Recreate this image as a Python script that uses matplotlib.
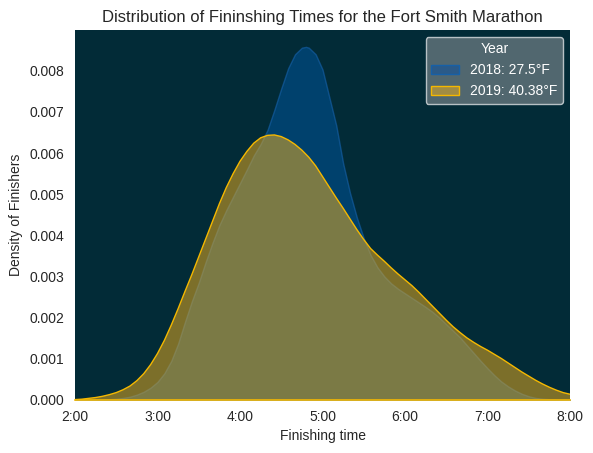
import matplotlib
matplotlib.use("Agg")
import matplotlib.pyplot as plt
from matplotlib.ticker import FuncFormatter, MultipleLocator
from matplotlib.patches import Patch

# Finishing time in minutes and density
minutes_2018 = [120, 130, 140, 145, 150, 155, 160, 165, 170, 175, 180, 185, 190, 195,
                200, 205, 210, 215, 220, 225, 230, 235, 240, 245, 250, 255, 260, 265,
                270, 275, 280, 285, 288, 290, 295, 300, 305, 310, 315, 320, 325, 330,
                335, 340, 345, 350, 355, 360, 365, 370, 375, 380, 385, 390, 395, 400,
                405, 410, 415, 420, 425, 430, 435, 440, 445, 450, 455, 460, 470, 480]
density_2018 = [0.0, 0.000005, 0.00001, 0.00002, 0.00003, 0.00005, 0.00008, 0.00013,
                0.0002, 0.0003, 0.00044, 0.00065, 0.00095, 0.00137, 0.0019, 0.0024,
                0.00285, 0.00335, 0.00382, 0.00425, 0.00461, 0.00494, 0.00527, 0.0056,
                0.00594, 0.00622, 0.00656, 0.00705, 0.00757, 0.00806, 0.0084, 0.00856,
                0.00858, 0.00856, 0.0084, 0.00803, 0.00735, 0.00667, 0.00575, 0.00503,
                0.00443, 0.00393, 0.00352, 0.00322, 0.003, 0.00283, 0.0027, 0.00259,
                0.00248, 0.00237, 0.00226, 0.00214, 0.002, 0.00184, 0.00168, 0.00152,
                0.00133, 0.00114, 0.00095, 0.00077, 0.0006, 0.00045, 0.00033, 0.00023,
                0.00015, 0.00009, 0.00005, 0.00003, 0.00001, 0.0]

minutes_2019 = [120, 125, 130, 135, 140, 145, 150, 155, 160, 165, 170, 175, 180, 185,
                190, 195, 200, 205, 210, 215, 220, 225, 230, 235, 240, 245, 250, 255,
                260, 265, 270, 275, 280, 285, 290, 295, 300, 305, 310, 315, 320, 325,
                330, 335, 340, 345, 350, 355, 360, 365, 370, 375, 380, 385, 390, 395,
                400, 405, 410, 415, 420, 425, 430, 435, 440, 445, 450, 455, 460, 465,
                470, 475, 480]
density_2019 = [0.00001, 0.00002, 0.00004, 0.00006, 0.00009, 0.00013, 0.00018, 0.00025,
                0.00034, 0.00047, 0.00064, 0.00086, 0.00113, 0.00145, 0.00182, 0.00222,
                0.00264, 0.00305, 0.00348, 0.00391, 0.00434, 0.00477, 0.00516, 0.0055,
                0.0058, 0.00604, 0.00624, 0.00637, 0.00643, 0.00644, 0.0064, 0.00632,
                0.00621, 0.00607, 0.0059, 0.00569, 0.00543, 0.00517, 0.00491, 0.00466,
                0.0044, 0.00414, 0.0039, 0.00368, 0.00352, 0.00337, 0.00321, 0.00306,
                0.00292, 0.00278, 0.00262, 0.00245, 0.00228, 0.00211, 0.00194, 0.00178,
                0.00164, 0.00151, 0.0014, 0.0013, 0.00121, 0.00111, 0.00101, 0.0009,
                0.00079, 0.00068, 0.00058, 0.00048, 0.00039, 0.00031, 0.00024, 0.00018,
                0.00014]

labels = ["2018: 27.5°F", "2019: 40.38°F"]

plt.rcParams['font.family'] = ['Liberation Sans', 'DejaVu Sans']

fig = plt.figure(figsize=(5.93, 4.53), dpi=100)
ax = fig.add_axes([0.1265, 0.117, 0.8347, 0.8168])
ax.set_facecolor('#022b37')

blue_fill = '#00508f'
blue_edge = '#1660a8'
yellow = '#f6b31e'
yellow_edge = '#f5b800'

ax.fill_between(minutes_2018, density_2018, 0, facecolor=blue_fill, alpha=0.62,
                edgecolor=blue_edge, linewidth=1.0)
ax.fill_between(minutes_2019, density_2019, 0, facecolor=yellow, alpha=0.5,
                edgecolor='none')
ax.plot(minutes_2019, density_2019, color=yellow_edge, linewidth=1.0,
        solid_joinstyle='round')
ax.plot([minutes_2019[0], minutes_2019[-1]], [0, 0], color=yellow_edge, linewidth=1.2,
        clip_on=False, zorder=3)

ax.set_xlim(120, 480)
ax.set_ylim(0, 0.00899)
ax.xaxis.set_major_locator(MultipleLocator(60))
ax.xaxis.set_major_formatter(FuncFormatter(lambda v, p: f"{int(v)//60}:{int(v)%60:02d}"))
ax.yaxis.set_major_locator(MultipleLocator(0.001))
ax.yaxis.set_major_formatter(FuncFormatter(lambda v, p: f"{v:.3f}"))
ax.tick_params(length=0, labelsize=10, colors='#262626')
ax.tick_params(axis='x', pad=7)
ax.tick_params(axis='y', pad=8)
for s in ax.spines.values():
    s.set_visible(False)

ax.set_xlabel("Finishing time", fontsize=10, color='#262626')
ax.set_ylabel("Density of Finishers", fontsize=10, color='#262626')
ax.set_title("Distribution of Fininshing Times for the Fort Smith Marathon", fontsize=12,
             color='#262626')

handles = [Patch(facecolor='#2b5a88', edgecolor='#1660a8'),
           Patch(facecolor='#a18c44', edgecolor=yellow_edge)]
leg = ax.legend(handles, labels, title="Year", loc='upper right', fontsize=10,
                title_fontsize=10, facecolor='#5a6e76', edgecolor='#c8cfd2',
                framealpha=0.9, labelcolor='white')
leg.get_title().set_color('white')

fig.savefig("out.png", dpi=100)
